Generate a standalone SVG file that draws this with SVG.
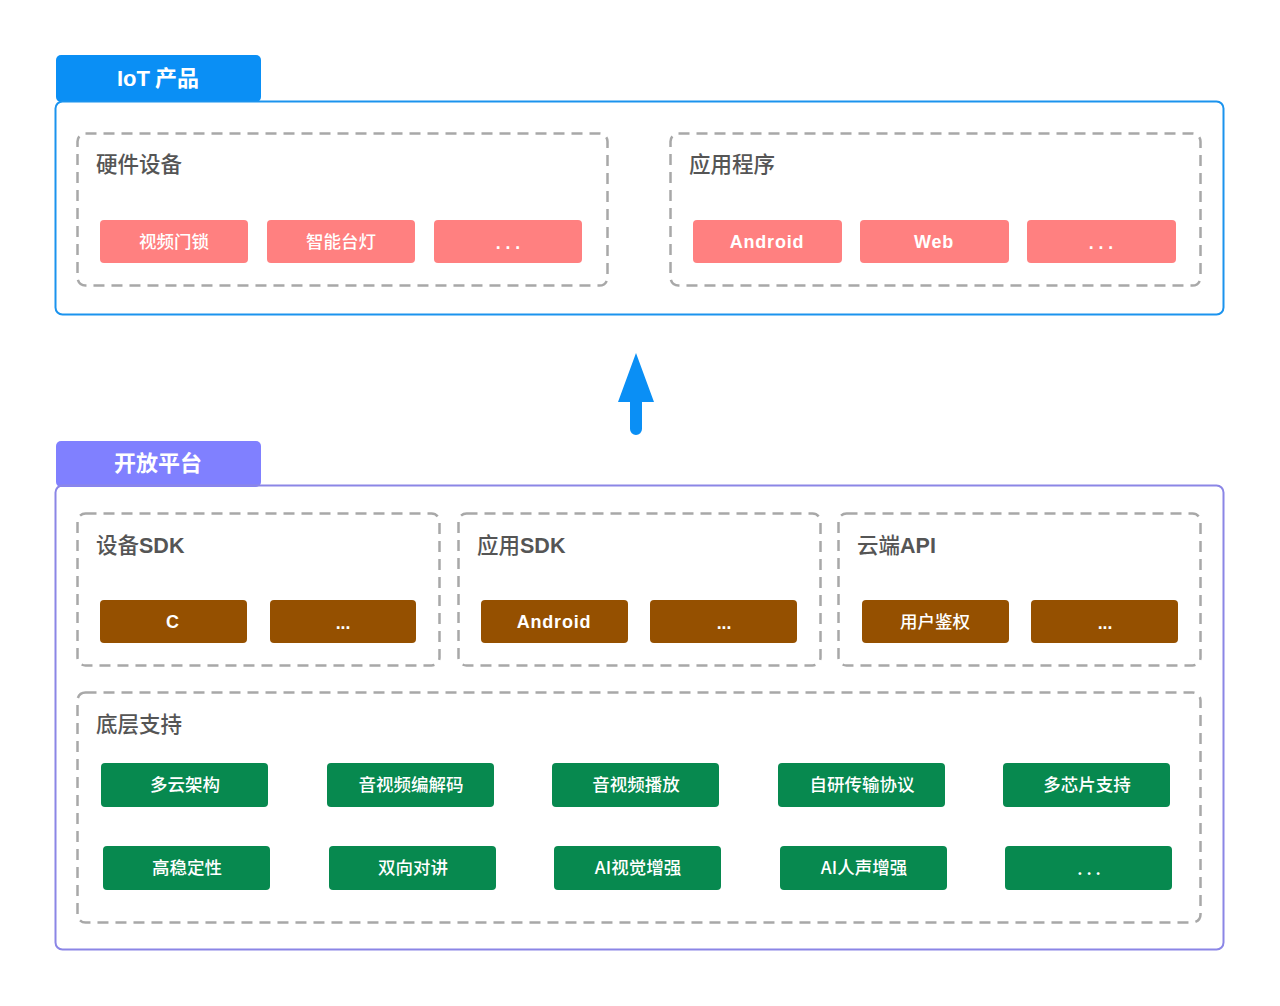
<svg xmlns="http://www.w3.org/2000/svg" width="1280" height="1006" viewBox="0 0 1280 1006">
<style>
text{font-family:"Noto Sans CJK SC","Noto Sans",sans-serif}
.tab{font-size:22px;font-weight:bold;fill:#fff;text-anchor:middle}
.dash{fill:none;stroke:#a8a8a8;stroke-width:2.5;stroke-dasharray:11 7}
.lbl{font-size:21.5px;fill:#555;font-weight:500}
.pink{fill:#ff8080}
.brown{fill:#955000}
.green{fill:#07894f}
.bt{font-size:17.5px;fill:#fff;text-anchor:middle;font-weight:500}
.en{font-family:"Liberation Sans","DejaVu Sans",sans-serif;font-weight:bold}
.wide{font-size:18px;letter-spacing:0.8px}
</style>
<rect width="1280" height="1006" fill="#fff"/>

<g id="iot">
<rect x="56" y="55" width="205" height="47" rx="5" fill="#0a8ff5"/>
<text class="tab" x="158" y="86"><tspan class="en">IoT</tspan> 产品</text>
<rect x="55.5" y="101.5" width="1168" height="213" rx="7" fill="none" stroke="#1b93ee" stroke-width="2"/>
</g>

<g id="hardware">
<rect class="dash" x="77.5" y="133.5" width="530" height="152" rx="8"/>
<text class="lbl" x="96" y="172">硬件设备</text>
<rect class="pink" x="100" y="220" width="148" height="43" rx="4"/>
<text class="bt" x="174" y="248">视频门锁</text>
<rect class="pink" x="267" y="220" width="148" height="43" rx="4"/>
<text class="bt" x="341" y="248">智能台灯</text>
<rect class="pink" x="434" y="220" width="148" height="43" rx="4"/>
<text class="bt en" x="508" y="249">. . .</text>
</g>

<g id="apps">
<rect class="dash" x="670.5" y="133.5" width="530" height="152" rx="8"/>
<text class="lbl" x="689" y="172">应用程序</text>
<rect class="pink" x="693" y="220" width="149" height="43" rx="4"/>
<text class="bt en wide" x="767" y="248">Android</text>
<rect class="pink" x="860" y="220" width="149" height="43" rx="4"/>
<text class="bt en wide" x="934" y="248">Web</text>
<rect class="pink" x="1027" y="220" width="149" height="43" rx="4"/>
<text class="bt en" x="1101" y="249">. . .</text>
</g>

<g id="connectors">
<path d="M636 353 L654 402 L642 402 L642 429 A6 6 0 0 1 630 429 L630 402 L618 402 Z" fill="#0a8ff5"/>
</g>

<g id="platform">
<rect x="56" y="441" width="205" height="46" rx="5" fill="#8080ff"/>
<text class="tab" x="158" y="471">开放平台</text>
<rect x="55.5" y="485.5" width="1168" height="464" rx="7" fill="none" stroke="#8b86e6" stroke-width="2"/>
</g>

<g id="devsdk">
<rect class="dash" x="77.5" y="513.5" width="362" height="152" rx="8"/>
<text class="lbl" x="96" y="553">设备<tspan class="en">SDK</tspan></text>
<rect class="brown" x="100" y="600" width="147" height="43" rx="4"/>
<text class="bt en wide" x="173" y="628">C</text>
<rect class="brown" x="270" y="600" width="146" height="43" rx="4"/>
<text class="bt en" x="343" y="629">...</text>
</g>

<g id="appsdk">
<rect class="dash" x="458.5" y="513.5" width="362" height="152" rx="8"/>
<text class="lbl" x="477" y="553">应用<tspan class="en">SDK</tspan></text>
<rect class="brown" x="481" y="600" width="147" height="43" rx="4"/>
<text class="bt en wide" x="554" y="628">Android</text>
<rect class="brown" x="650" y="600" width="147" height="43" rx="4"/>
<text class="bt en" x="724" y="629">...</text>
</g>

<g id="cloudapi">
<rect class="dash" x="838.5" y="513.5" width="362" height="152" rx="8"/>
<text class="lbl" x="857" y="553">云端<tspan class="en">API</tspan></text>
<rect class="brown" x="862" y="600" width="147" height="43" rx="4"/>
<text class="bt" x="935" y="628">用户鉴权</text>
<rect class="brown" x="1031" y="600" width="147" height="43" rx="4"/>
<text class="bt en" x="1105" y="629">...</text>
</g>

<g id="base">
<rect class="dash" x="77.5" y="692.5" width="1123" height="230" rx="8"/>
<text class="lbl" x="96" y="732">底层支持</text>
<rect class="green" x="101" y="763" width="167" height="44" rx="4"/>
<text class="bt" x="185" y="791">多云架构</text>
<rect class="green" x="327" y="763" width="167" height="44" rx="4"/>
<text class="bt" x="411" y="791">音视频编解码</text>
<rect class="green" x="552" y="763" width="167" height="44" rx="4"/>
<text class="bt" x="636" y="791">音视频播放</text>
<rect class="green" x="778" y="763" width="167" height="44" rx="4"/>
<text class="bt" x="862" y="791">自研传输协议</text>
<rect class="green" x="1003" y="763" width="167" height="44" rx="4"/>
<text class="bt" x="1087" y="791">多芯片支持</text>
<rect class="green" x="103" y="846" width="167" height="44" rx="4"/>
<text class="bt" x="187" y="874">高稳定性</text>
<rect class="green" x="329" y="846" width="167" height="44" rx="4"/>
<text class="bt" x="413" y="874">双向对讲</text>
<rect class="green" x="554" y="846" width="167" height="44" rx="4"/>
<text class="bt" x="638" y="874">AI视觉增强</text>
<rect class="green" x="780" y="846" width="167" height="44" rx="4"/>
<text class="bt" x="864" y="874">AI人声增强</text>
<rect class="green" x="1005" y="846" width="167" height="44" rx="4"/>
<text class="bt" x="1089" y="875">. . .</text>
</g>
</svg>
